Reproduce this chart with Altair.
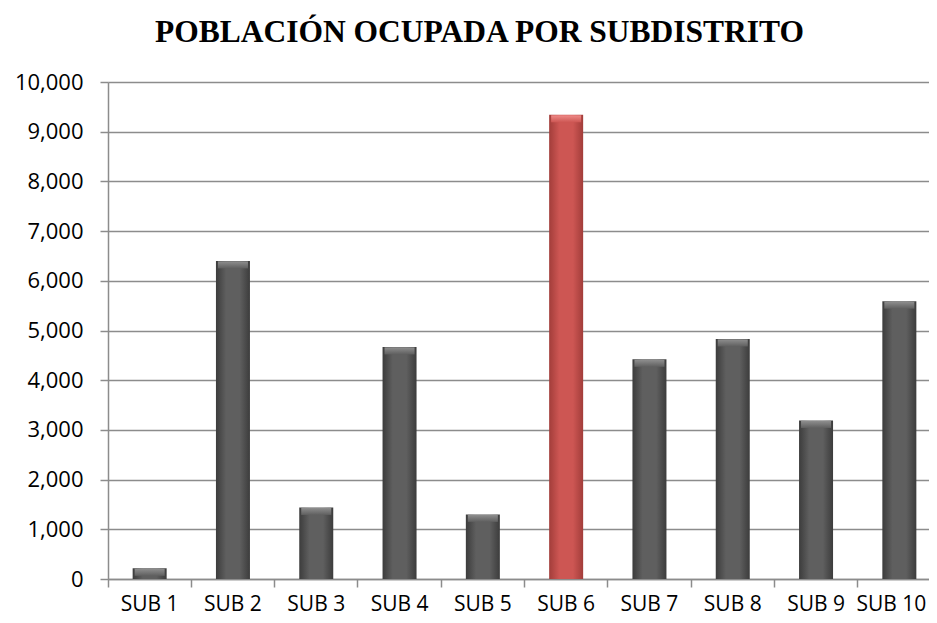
import altair as alt
import pandas as pd

categories = ["SUB 1", "SUB 2", "SUB 3", "SUB 4", "SUB 5", "SUB 6", "SUB 7", "SUB 8", "SUB 9", "SUB 10"]
values = [215, 6400, 1440, 4670, 1300, 9340, 4420, 4830, 3190, 5590]
highlight = ["SUB 6"]

df = pd.DataFrame({"cat": categories, "val": values})
df["hl"] = df["cat"].isin(highlight)

gray_grad = alt.Gradient(gradient="linear", x1=0, x2=1, y1=0, y2=0,
                         stops=[alt.GradientStop(color="#3c3c3c", offset=0),
                                alt.GradientStop(color="#5f5f5f", offset=0.3),
                                alt.GradientStop(color="#5f5f5f", offset=0.7),
                                alt.GradientStop(color="#3c3c3c", offset=1)])
red_grad = alt.Gradient(gradient="linear", x1=0, x2=1, y1=0, y2=0,
                        stops=[alt.GradientStop(color="#a23d3a", offset=0),
                               alt.GradientStop(color="#cd5653", offset=0.3),
                               alt.GradientStop(color="#cd5653", offset=0.7),
                               alt.GradientStop(color="#a23d3a", offset=1)])
gray_top = alt.Gradient(gradient="linear", x1=0, x2=0, y1=0, y2=1,
                        stops=[alt.GradientStop(color="#8e8e8e", offset=0),
                               alt.GradientStop(color="#5f5f5f", offset=1)])
red_top = alt.Gradient(gradient="linear", x1=0, x2=0, y1=0, y2=1,
                       stops=[alt.GradientStop(color="#ef8a88", offset=0),
                              alt.GradientStop(color="#cd5653", offset=1)])

x_enc = alt.X("cat:N", sort=categories, title=None,
              scale=alt.Scale(range=[0, 833], paddingInner=0, paddingOuter=0),
              axis=alt.Axis(labelAngle=0, bandPosition=0, ticks=True, tickSize=8,
                            tickColor="#8c8c8c", tickWidth=1.5, domainColor="#8c8c8c",
                            domainWidth=1.5, labelFont="Open Sans", labelFontSize=21,
                            labelColor="#000000", labelPadding=6, grid=False,
                            labelFlush=False,
                            labelOffset={"condition": {"test": "datum.value == 'SUB 10'", "value": -8},
                                         "value": 0}))
y_enc = alt.Y("val:Q", title=None,
              scale=alt.Scale(domain=[0, 10000], nice=False),
              axis=alt.Axis(values=list(range(0, 10001, 1000)), format=",d",
                            tickSize=8, tickColor="#8c8c8c", tickWidth=1.5,
                            domainColor="#8c8c8c", domainWidth=1.5,
                            gridColor="#8c8c8c", gridWidth=1.5,
                            labelFont="Open Sans", labelFontSize=22,
                            labelColor="#000000", labelPadding=17))

base = alt.Chart(df)

gray_bars = base.transform_filter("!datum.hl").mark_bar(width=34, color=gray_grad).encode(x=x_enc, y=y_enc)
red_bars = base.transform_filter("datum.hl").mark_bar(width=34, color=red_grad).encode(x=x_enc, y=y_enc)
gray_caps = base.transform_filter("!datum.hl").mark_tick(
    width=30, thickness=7, yOffset=4, color=gray_top, opacity=1).encode(x=x_enc, y=y_enc)
red_caps = base.transform_filter("datum.hl").mark_tick(
    width=30, thickness=7, yOffset=4, color=red_top, opacity=1).encode(x=x_enc, y=y_enc)

chart = alt.layer(gray_bars, red_bars, gray_caps, red_caps).properties(
    width=821, height=497,
    autosize=alt.AutoSizeParams(type="none"),
    padding={"left": 100, "top": 74, "right": 0, "bottom": 36},
    title=alt.TitleParams("POBLACIÓN OCUPADA POR SUBDISTRITO", font="Liberation Serif",
                          fontSize=31.5, fontWeight="bold", color="#000000",
                          anchor="middle", offset=23, dx=-39),
).configure_view(stroke=None, clip=False).configure_axis(grid=True)

chart.save("out.html", embed_options={"renderer": "svg", "actions": False})
